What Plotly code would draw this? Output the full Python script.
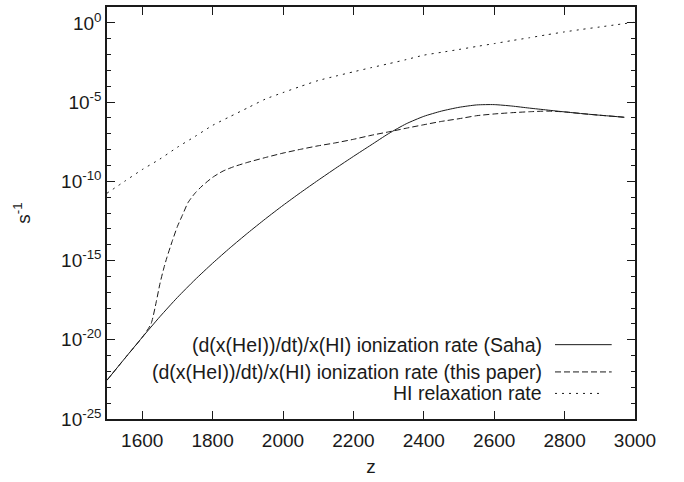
import plotly.graph_objects as go

# ---------------- data (log10 of rate in s^-1) ----------------
z_saha = [1500, 1550, 1600, 1650, 1700, 1750, 1800, 1850, 1900, 1950, 2000, 2050,
          2100, 2150, 2200, 2250, 2300, 2350, 2400, 2450, 2500, 2550, 2600, 2650,
          2700, 2750, 2800, 2850, 2900, 2950, 2970]
log_saha = [-22.55, -21.19, -19.85, -18.55, -17.33, -16.21, -15.17, -14.19, -13.26, -12.37,
            -11.52, -10.71, -9.93, -9.17, -8.43, -7.71, -6.99, -6.37, -5.90, -5.57, -5.33,
            -5.18, -5.16, -5.25, -5.38, -5.5, -5.62, -5.73, -5.83, -5.92, -5.96]

z_paper = [1500, 1550, 1600, 1625, 1640, 1650, 1660, 1670, 1685, 1700, 1715, 1730, 1750,
           1770, 1800, 1830, 1860, 1900, 1950, 2000, 2050, 2100, 2150, 2200, 2250, 2300,
           2350, 2400, 2450, 2500, 2550, 2600, 2650, 2700, 2750, 2800, 2850, 2900, 2950, 2970]
log_paper = [-22.55, -21.19, -19.85, -19.0, -17.6, -16.5, -15.6, -14.82, -13.8, -12.85,
             -12.1, -11.35, -10.75, -10.3, -9.75, -9.35, -9.08, -8.8, -8.5, -8.22, -7.98,
             -7.76, -7.57, -7.35, -7.1, -6.88, -6.65, -6.43, -6.22, -6.05, -5.86, -5.75,
             -5.67, -5.61, -5.57, -5.62, -5.73, -5.83, -5.92, -5.96]

z_hi = [1500, 1550, 1600, 1650, 1700, 1750, 1800, 1850, 1900, 1950, 2000, 2050, 2100,
        2150, 2200, 2250, 2300, 2350, 2400, 2450, 2500, 2550, 2600, 2650, 2700, 2750,
        2800, 2850, 2900, 2950, 3000]
log_hi = [-10.75, -10.0, -9.26, -8.6, -7.85, -7.17, -6.47, -5.91, -5.36, -4.81, -4.4,
          -4.01, -3.64, -3.36, -3.09, -2.83, -2.58, -2.32, -2.04, -1.86, -1.68, -1.49,
          -1.31, -1.12, -0.94, -0.75, -0.57, -0.41, -0.26, -0.11, 0.04]

names = ["(d(x(HeI))/dt)/x(HI) ionization rate (Saha)",
         "(d(x(HeI))/dt)/x(HI) ionization rate (this paper)",
         "HI relaxation rate"]

x_ticks = [1600, 1800, 2000, 2200, 2400, 2600, 2800, 3000]
y_major_exp = [0, -5, -10, -15, -20, -25]
y_minor_exp = list(range(-25, 2))

# ---------------- figure ----------------
FONT = "Liberation Sans, Arial, Helvetica, sans-serif"
INK = "#1a1a1a"
dashes = ["solid", "6px,3px", "2px,5px"]

series = [(z_saha, log_saha), (z_paper, log_paper), (z_hi, log_hi)]
fig = go.Figure()
for (zs, ls), name, d in zip(series, names, dashes):
    fig.add_trace(go.Scatter(
        x=zs, y=[10 ** v for v in ls], mode="lines", name=name,
        line=dict(color=INK, width=1, dash=d, shape="spline", smoothing=0.6),
        showlegend=False))

# manual legend (text left of sample, gnuplot style)
L, R, T, B = 107, 635, 5, 419
W, H = R - L, B - T
leg_rows = [(344.3, 611.7), (371.7, 611.7), (393.3, 603.0)]
for (py, px1), name, d in zip(leg_rows, names, dashes):
    yp = (B - py) / H
    fig.add_annotation(x=(541.7 - L) / W, y=yp, xref="paper", yref="paper",
                       text=name, showarrow=False, xanchor="right", yanchor="middle",
                       xshift=2,
                       font=dict(family=FONT, size=19.5, color=INK))
    fig.add_shape(type="line", xref="paper", yref="paper",
                  x0=(555 - L) / W, x1=(px1 - L) / W, y0=yp, y1=yp,
                  line=dict(color=INK, width=1, dash=d))

fig.update_layout(
    width=684, height=482,
    margin=dict(l=L, r=684 - R, t=T, b=482 - B),
    plot_bgcolor="white", paper_bgcolor="white",
    font=dict(family=FONT, size=19, color=INK),
    xaxis=dict(
        range=[1500, 3000], tickmode="array", tickvals=x_ticks,
        ticktext=[str(v) for v in x_ticks],
        ticks="inside", ticklen=8, tickwidth=1, tickcolor=INK,
        showline=True, linecolor=INK, linewidth=1.5, mirror="ticks",
        showgrid=False, zeroline=False,
        ticklabelstandoff=3,
        title=dict(text="z", standoff=10, font=dict(size=19)),
    ),
    yaxis=dict(
        type="log", range=[-25, 1],
        tickmode="array", tickvals=[10.0 ** e for e in y_major_exp],
        ticktext=[f"10<sup>{e}</sup>" for e in y_major_exp],
        ticks="inside", ticklen=8, tickwidth=1, tickcolor=INK,
        minor=dict(tickmode="array", tickvals=[10.0 ** e for e in y_minor_exp],
                   ticks="inside", ticklen=4, tickwidth=1, tickcolor=INK, showgrid=False),
        showline=True, linecolor=INK, linewidth=1.5, mirror="ticks",
        showgrid=False, zeroline=False,
        ticklabelstandoff=0,
        title=dict(text="s<sup>-1</sup>", standoff=25, font=dict(size=19)),
    ),
)

fig.write_html("out.html", config={"displayModeBar": False},
               post_script="document.body.style.margin='0';")
